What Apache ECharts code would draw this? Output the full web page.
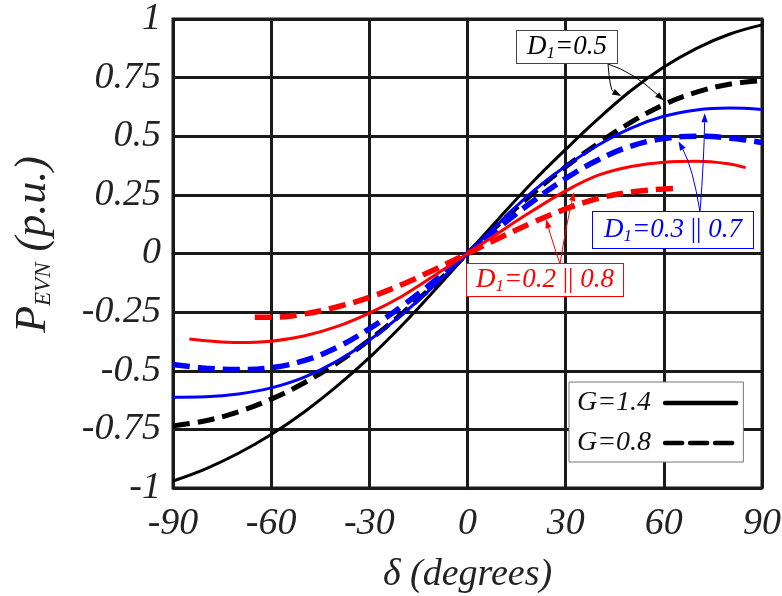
<!DOCTYPE html>
<html><head><meta charset="utf-8">
<script src="https://cdn.jsdelivr.net/npm/echarts@6/dist/echarts.min.js"></script>
<style>html,body{margin:0;padding:0;background:#fff}#c{width:782px;height:596px}</style>
</head><body><div id="c"></div>
<script>
// ---- data ----
const degrees = [-90,-80,-70,-60,-50,-40,-30,-20,-10,0,10,20,30,40,50,60,70,80,90];
const pG14_D05 = [-0.97,-0.918,-0.852,-0.772,-0.677,-0.567,-0.444,-0.306,-0.156,0,0.156,0.306,0.444,0.575,0.695,0.795,0.875,0.935,0.975];
const pG08_D05 = [-0.735,-0.713,-0.675,-0.621,-0.552,-0.468,-0.369,-0.256,-0.132,0,0.132,0.256,0.37,0.47,0.56,0.635,0.688,0.722,0.737];
const pG14_D03 = [-0.613,-0.611,-0.599,-0.573,-0.528,-0.46,-0.37,-0.26,-0.135,0,0.135,0.265,0.372,0.463,0.535,0.585,0.612,0.62,0.614];
const pG08_D03 = [-0.473,-0.489,-0.495,-0.487,-0.457,-0.401,-0.321,-0.224,-0.116,0,0.115,0.223,0.32,0.40,0.458,0.49,0.50,0.493,0.473];
const degreesRedSolid = [-85,-80,-70,-60,-50,-40,-30,-20,-10,0,10,20,30,40,50,60,70,80,85];
const pG14_D02 = [-0.365,-0.372,-0.38,-0.374,-0.352,-0.312,-0.254,-0.182,-0.093,0,0.093,0.183,0.267,0.334,0.371,0.389,0.393,0.382,0.366];
const degreesRedDash = [-65,-60,-50,-40,-30,-20,-10,0,10,20,30,40,50,60,64];
const pG08_D02 = [-0.272,-0.272,-0.258,-0.228,-0.187,-0.132,-0.068,0,0.068,0.133,0.19,0.235,0.262,0.275,0.277];
const xTickLabels = ['-90','-60','-30','0','30','60','90'];
const yTickLabels = ['-1','-0.75','-0.5','-0.25','0','0.25','0.5','0.75','1'];
const legendNames = ['G=1.4','G=0.8'];

// annotation arrow tips in data coordinates [deg, value]
const tipsD05 = [[47, 0.672],[60, 0.652]];
const tipsD03 = [[72.5, 0.598],[64.5, 0.478]];
const tipsD02 = [[24, 0.146],[32.6, 0.262]];

const FONT = 'Liberation Serif';
const GRID = '#1a1a1a';
const pairs = (xs, ys) => xs.map((x, i) => [x, ys[i]]);

const chart = echarts.init(document.getElementById('c'));

function lineSeries(name, xs, ys, color, width, dashed) {
  return {
    type: 'line', name: name, data: pairs(xs, ys), smooth: 0.4, symbol: 'none',
    lineStyle: {color: color, width: width, type: dashed ? [17, 8] : 'solid', cap: 'butt'},
    itemStyle: {color: color}, z: 3
  };
}

const option = {
  animation: false,
  backgroundColor: '#fff',
  grid: {left: 173, right: 20, top: 19, bottom: 108, show: true, borderColor: GRID, borderWidth: 3, outerBoundsMode: 'none'},
  xAxis: {
    type: 'value', min: -90, max: 90, interval: 30,
    axisLine: {show: true, lineStyle: {color: GRID, width: 3}},
    axisTick: {show: false},
    splitLine: {show: true, lineStyle: {color: GRID, width: 3}},
    axisLabel: {
      fontFamily: FONT, fontStyle: 'italic', fontSize: 38, color: '#222', margin: 17,
      formatter: v => xTickLabels[Math.round((v + 90) / 30)]
    },
    name: 'δ (degrees)', nameLocation: 'middle', nameGap: 68,
    nameTextStyle: {fontFamily: FONT, fontStyle: 'italic', fontSize: 38, color: '#222'}
  },
  yAxis: {
    type: 'value', min: -1, max: 1, interval: 0.25,
    axisLine: {show: true, lineStyle: {color: GRID, width: 3}},
    axisTick: {show: false},
    splitLine: {show: true, lineStyle: {color: GRID, width: 3}},
    axisLabel: {
      fontFamily: FONT, fontStyle: 'italic', fontSize: 38, color: '#222', margin: 12,
      formatter: v => yTickLabels[Math.round((v + 1) / 0.25)]
    },
    name: '{p|P}{s|EVN}{p| (p.u.)}', nameLocation: 'middle', nameGap: 118, nameRotate: 90,
    nameTextStyle: {
      fontFamily: FONT, fontStyle: 'italic', color: '#222', padding: [0, 0, 0, 18],
      rich: {
        p: {fontFamily: FONT, fontStyle: 'italic', fontSize: 44, lineHeight: 44, color: '#222'},
        s: {fontFamily: FONT, fontStyle: 'italic', fontSize: 23, lineHeight: 23, verticalAlign: 'bottom', color: '#222'}
      }
    }
  },
  legend: {
    data: legendNames, orient: 'vertical', left: 569, top: 382, align: 'right',
    itemWidth: 71, itemHeight: 28, itemGap: 12, padding: [7, 5, 5, 8],
    backgroundColor: '#fff', borderColor: '#777', borderWidth: 1,
    lineStyle: {width: 4.5, cap: 'round'},
    itemStyle: {opacity: 0},
    textStyle: {fontFamily: FONT, fontStyle: 'italic', fontSize: 28, color: '#111', padding: [0, 9, 0, 0]},
    z: 10
  },
  series: [
    lineSeries('G=1.4', degrees, pG14_D05, '#000', 3, false),
    lineSeries('G=0.8', degrees, pG08_D05, '#000', 5, true),
    lineSeries('D1=0.3|0.7 G=1.4', degrees, pG14_D03, '#0000ff', 3, false),
    lineSeries('D1=0.3|0.7 G=0.8', degrees, pG08_D03, '#0000ff', 5.5, true),
    lineSeries('D1=0.2|0.8 G=1.4', degreesRedSolid, pG14_D02, '#ff0000', 3, false),
    lineSeries('D1=0.2|0.8 G=0.8', degreesRedDash, pG08_D02, '#ff0000', 5.5, true)
  ]
};
chart.setOption(option);

// ---- annotations (boxes + curved arrows) ----
function richText(label, color) {
  return {
    text: label, fill: color,
    rich: {
      i: {fontFamily: FONT, fontStyle: 'italic', fontSize: 27, lineHeight: 30, fill: color},
      s: {fontFamily: FONT, fontStyle: 'italic', fontSize: 17, lineHeight: 14, verticalAlign: 'bottom', fill: color},
      b: {fontFamily: FONT, fontStyle: 'normal', fontSize: 27, lineHeight: 30, fill: color}
    }
  };
}
const boxes = [
  {x: 517, y: 31, label: '{i|D}{s|1}{i|=0.5}', color: '#000', border: '#444', pad: [1, 10, 1, 10]},
  {x: 593, y: 212, label: '{i|D}{s|1}{i|=0.3 }{b|||}{i| 0.7}', color: '#0000ff', border: '#0000ff', pad: [3, 11, 3, 11]},
  {x: 467, y: 264, label: '{i|D}{s|1}{i|=0.2 }{b|||}{i| 0.8}', color: '#ff0000', border: '#ff0000', pad: [1, 9, 1, 9]}
];
const arrowDefs = [
  {from: [608, 64], ctrl: [610, 90], tip: tipsD05[0], color: '#000'},
  {from: [608, 64], ctrl: [633, 72], tip: tipsD05[1], color: '#000'},
  {from: [700, 212], ctrl: [704, 160], tip: tipsD03[0], color: '#0000ff'},
  {from: [700, 212], ctrl: [693, 168], tip: tipsD03[1], color: '#0000ff'},
  {from: [560, 264], ctrl: [552, 240], tip: tipsD02[0], color: '#ff0000'},
  {from: [560, 264], ctrl: [566, 226], tip: tipsD02[1], color: '#ff0000'}
];
const graphics = [];
arrowDefs.forEach(a => {
  const t = chart.convertToPixel({gridIndex: 0}, a.tip);
  const dx = t[0] - a.ctrl[0], dy = t[1] - a.ctrl[1];
  const L = Math.hypot(dx, dy) || 1, ux = dx / L, uy = dy / L;
  const hl = 9, hw = 3.2;
  const bx = t[0] - ux * hl, by = t[1] - uy * hl;
  graphics.push({
    type: 'bezierCurve', z: 20,
    shape: {x1: a.from[0], y1: a.from[1], x2: bx, y2: by, cpx1: a.ctrl[0], cpy1: a.ctrl[1]},
    style: {stroke: a.color, lineWidth: 1, fill: null}
  });
  graphics.push({
    type: 'polygon', z: 20,
    shape: {points: [[t[0], t[1]], [bx - uy * hw, by + ux * hw], [bx + uy * hw, by - ux * hw]]},
    style: {fill: a.color}
  });
});
boxes.forEach(b => {
  const st = richText(b.label, b.color);
  st.x = b.x; st.y = b.y; st.align = 'left'; st.verticalAlign = 'top';
  st.backgroundColor = '#fff'; st.borderColor = b.border; st.borderWidth = 1; st.padding = b.pad;
  graphics.push({type: 'text', z: 21, style: st});
});
chart.setOption({graphic: graphics});
</script></body></html>
